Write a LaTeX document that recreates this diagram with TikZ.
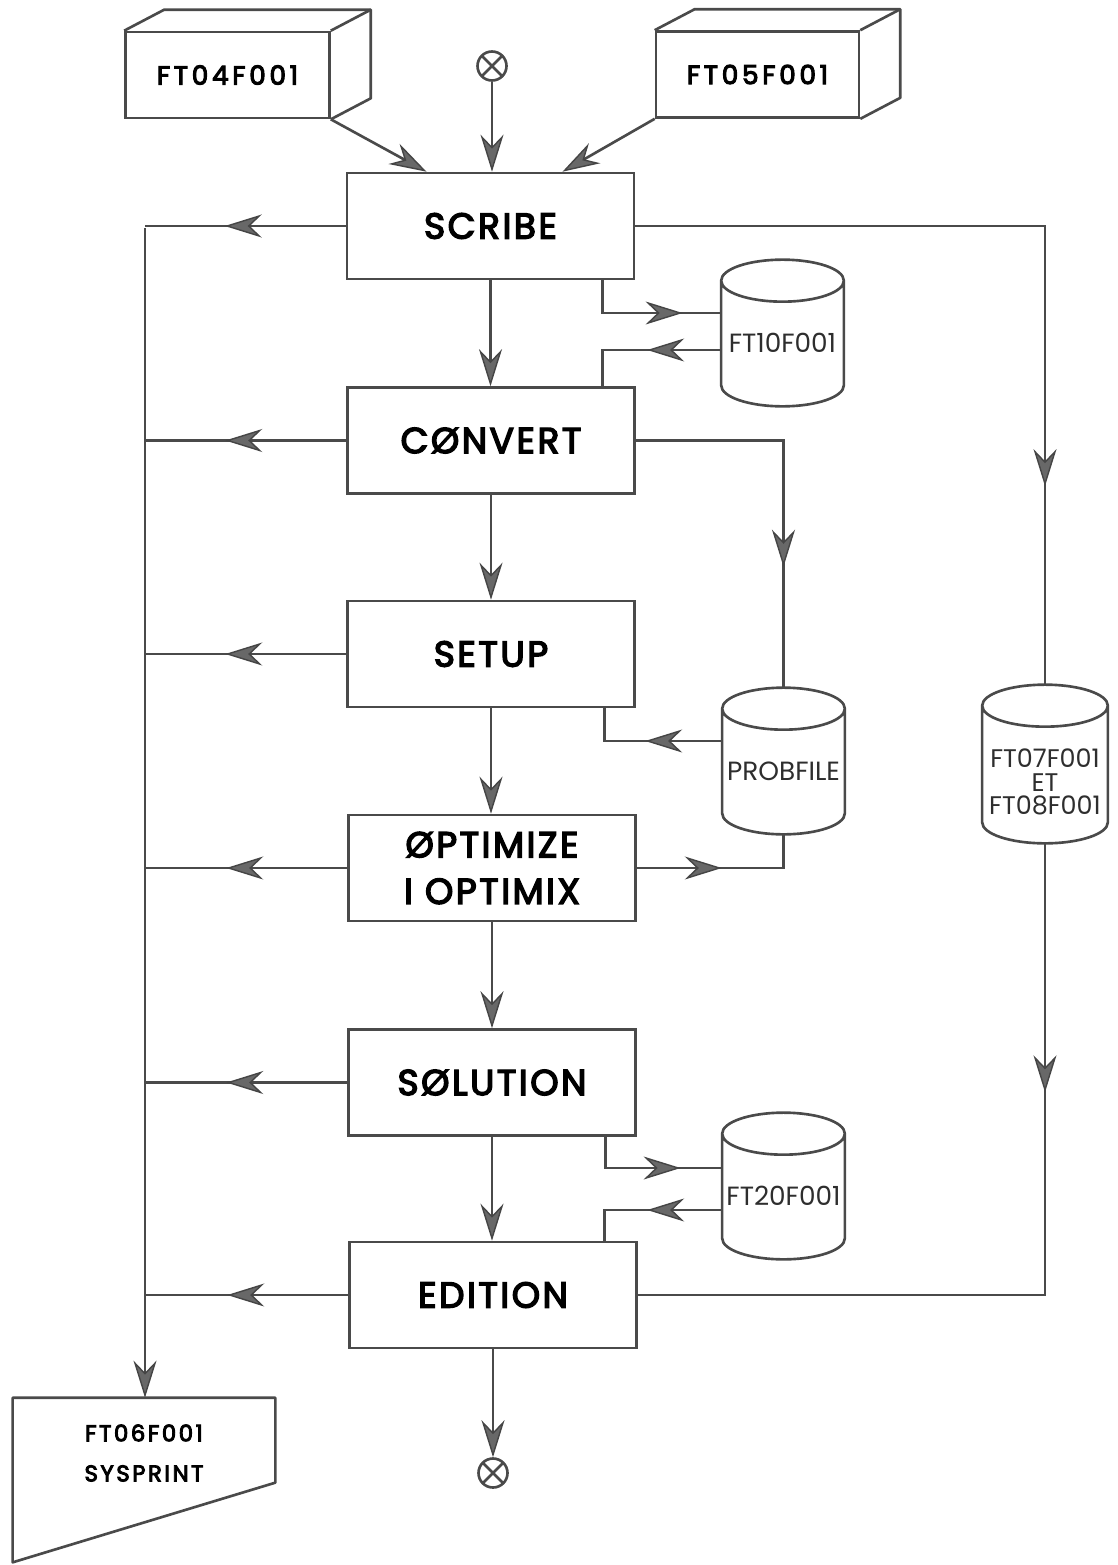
\documentclass[tikz,border=0pt]{standalone}
\usepackage{fontspec}
\setmainfont{Poppins}
\usetikzlibrary{arrows.meta,decorations.markings,calc}

\definecolor{lncol}{HTML}{4A4A4A}
\definecolor{tipfill}{HTML}{686868}
\definecolor{tipline}{HTML}{454545}
\definecolor{drumtext}{HTML}{2E2E2E}

% fonts
\newfontfamily\medfont{Poppins}[FakeBold=4]
\newcommand\procfont{\fontsize{20.5}{26.5}\medfont\addfontfeatures{LetterSpace=7}}
\newcommand\filefont{\fontsize{15}{16}\medfont\addfontfeatures{LetterSpace=14}}
\newcommand\printfont{\fontsize{13}{22.8}\medfont\addfontfeatures{LetterSpace=11}}
\newcommand\drumfont{\fontsize{15}{16}\selectfont}
\newcommand\drumry{0.42cm}

% cylinder outline around a (borderless) node
\newcommand\drawdrum[1]{%
  \draw[ln] let \p1=(#1.north west), \p2=(#1.south east), \n1={(\x2-\x1)/2} in
    ([yshift=-\drumry]#1.north west) -- ([yshift=\drumry]#1.south west)
    arc[start angle=180,end angle=360,x radius=\n1,y radius=\drumry]
    -- ([yshift=-\drumry]#1.north east)
    arc[start angle=0,end angle=180,x radius=\n1,y radius=\drumry]
    arc[start angle=180,end angle=360,x radius=\n1,y radius=\drumry];}

% top and side faces of a box drawn in perspective
\newcommand\drawdepth[1]{%
  \draw[ln,line join=round] (#1.north west) -- ++(40,21) -- ([shift={(40,21)}]#1.north east)
    -- ([shift={(40,21)}]#1.south east) -- (#1.south east);
  \draw[ln] (#1.north east) -- ++(40,21);}

\tikzset{flowtip/.tip={Stealth[length=0.74cm,width=0.46cm,inset=0.24cm,color=tipline,fill=tipfill,line width=0.8pt]}}

\begin{document}
\begin{tikzpicture}[x=0.02cm,y=0.02cm,
  ln/.style={draw=lncol,line width=1.5pt},
  proc/.style={ln,rectangle,minimum width=5.74cm,minimum height=2.12cm,inner sep=0pt,align=center,font=\procfont},
  drum/.style={rectangle,minimum width=2.44cm,minimum height=2.92cm,inner sep=0pt},
  drumlabel/.style={yshift=-0.2cm,align=center,font=\drumfont,text=drumtext,inner sep=0pt},
  tape/.style={ln,rectangle,minimum width=4.08cm,minimum height=1.72cm,inner sep=0pt,font=\filefont},
  term/.style={ln,circle,minimum size=0.58cm,inner sep=0pt,
    path picture={\draw[lncol,line width=1.5pt]
      (path picture bounding box.north west) -- (path picture bounding box.south east)
      (path picture bounding box.north east) -- (path picture bounding box.south west);}},
  flow/.style={ln,-{flowtip}},
  midflow/.style={ln,postaction={decorate,decoration={markings,mark=at position #1 with {\arrow{flowtip}}}}},
]
\useasboundingbox[fill=white] (0,0) rectangle (1117,-1565);

% input files and start
\node[tape] (ft04) at (227.5,-75) {FT04F001};
\node[tape,minimum width=4.06cm] (ft05) at (757.5,-74.5) {FT05F001};
\drawdepth{ft04}
\drawdepth{ft05}
\node[term] (start) at (492,-66) {};

% processing steps
\node[proc] (scribe)   at (490.5,-226)  {SCRIBE};
\node[proc] (convert)  at (491,-440.5)  {CØNVERT};
\node[proc] (setup)    at (491,-654)    {SETUP};
\node[proc] (optim)    at (492,-868)    {ØPTIMIZE\\I OPTIMIX};
\node[proc] (solution) at (492,-1082.5) {SØLUTION};
\node[proc] (edition)  at (493,-1295)   {EDITION};
\node[term] (stop)     at (493,-1473)   {};

% disk files
\node[drum,label={[drumlabel]center:FT10F001}] (ft10) at (782.5,-333) {};
\node[drum,label={[drumlabel]center:PROBFILE}] (probfile) at (783.5,-761) {};
\node[drum,label={[drumlabel]center:FT20F001}] (ft20) at (783.5,-1186) {};
\node[drum,minimum width=2.5cm,minimum height=3.16cm,
  label={[drumlabel,yshift=-0.16cm,font=\fontsize{14.5}{13.2}\selectfont]center:FT07F001\\ET\\FT08F001}] (ft07) at (1045,-764) {};
\drawdrum{ft10}
\drawdrum{probfile}
\drawdrum{ft20}
\drawdrum{ft07}

% printer output
\node[rectangle,minimum width=5.24cm,minimum height=3.28cm,inner sep=0pt,
  label={[yshift=0.54cm,align=center,font=\printfont,inner sep=0pt]center:FT06F001\\SYSPRINT}] (ft06) at (144,-1480) {};
\draw[ln,line join=round] (ft06.north west) -- (ft06.north east) -- ([yshift=-1.7cm]ft06.north east)
  -- (ft06.south west) -- cycle;

% inputs into SCRIBE
\draw[flow] (ft04.south east) -- ([xshift=-1.28cm]scribe.north);
\draw[flow] (ft05.south west) -- ([xshift=1.44cm]scribe.north);
\draw[flow] (start) -- (start |- scribe.north);

% main sequence
\draw[flow] (scribe.south) -- (scribe.south |- convert.north);
\draw[flow] (convert.south) -- (convert.south |- setup.north);
\draw[flow] (setup.south) -- (setup.south |- optim.north);
\draw[flow] (optim.south) -- (optim.south |- solution.north);
\draw[flow] (solution.south) -- (solution.south |- edition.north);
\draw[flow] (edition.south) -- (edition.south |- stop.north);

% printed output bus
\coordinate (bustop) at (145,-228);
\draw[flow] (bustop) -- (bustop |- ft06.north);
\foreach \n in {scribe,convert,setup,optim,solution,edition}
  \draw[midflow=2.42cm] (\n.west) -- (\n.west -| bustop);

% disk traffic
\draw[midflow=2.26cm] ([xshift=-0.66cm]scribe.south east) |- ([yshift=0.4cm]ft10.west);
\draw[midflow=1.48cm] ([yshift=-0.34cm]ft10.west) -| ([xshift=-0.66cm]convert.north east);
\draw[midflow=5.48cm] (convert.east) -| (probfile.north);
\draw[midflow=1.54cm] ([yshift=0.4cm]probfile.west) -| ([xshift=-0.62cm]setup.south east);
\draw[midflow=1.70cm] (optim.east) -| (probfile.south);
\draw[midflow=2.12cm] ([xshift=-0.62cm]solution.south east) |- ([yshift=0.36cm]ft20.west);
\draw[midflow=1.50cm] ([yshift=-0.48cm]ft20.west) -| ([xshift=-0.66cm]edition.north east);
\draw[midflow=13.4cm] (scribe.east) -| (ft07.north);
\draw[midflow=4.98cm] (ft07.south) |- (edition.east);
\end{tikzpicture}
\end{document}
